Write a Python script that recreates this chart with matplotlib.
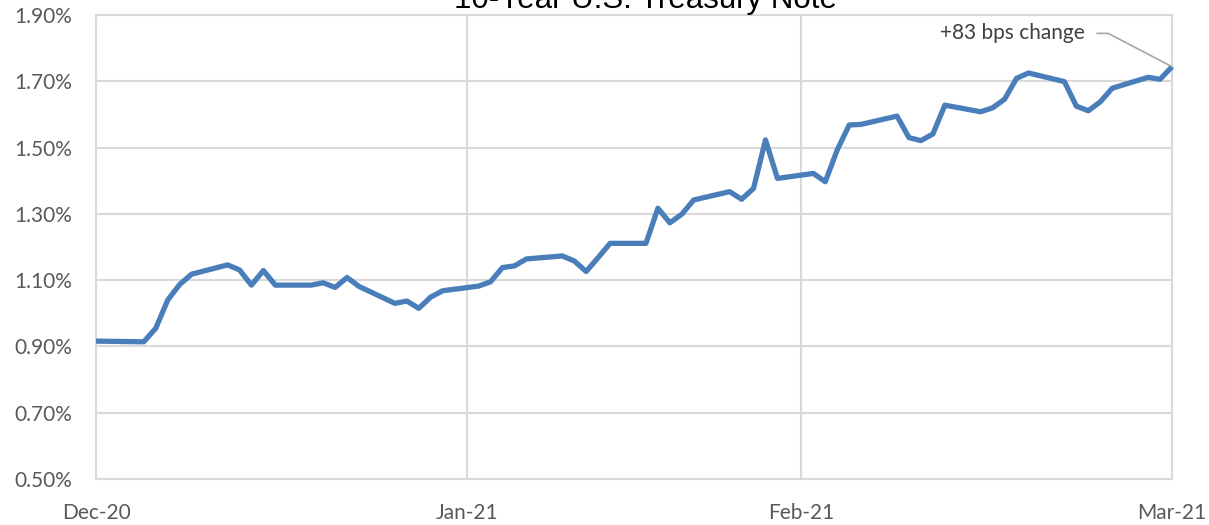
import matplotlib
matplotlib.use("Agg")
import matplotlib.pyplot as plt
import matplotlib.dates as mdates
import matplotlib.ticker as mticker
import numpy as np

# Daily 10-year yield (%), Dec 31 2020 - Mar 31 2021
dates = [
    "2020-12-31", "2021-01-04", "2021-01-05", "2021-01-06", "2021-01-07", "2021-01-08",
    "2021-01-11", "2021-01-12", "2021-01-13", "2021-01-14", "2021-01-15", "2021-01-18",
    "2021-01-19", "2021-01-20", "2021-01-21", "2021-01-22", "2021-01-25", "2021-01-26",
    "2021-01-27", "2021-01-28", "2021-01-29", "2021-02-01", "2021-02-02", "2021-02-03",
    "2021-02-04", "2021-02-05", "2021-02-08", "2021-02-09", "2021-02-10", "2021-02-11",
    "2021-02-12", "2021-02-15", "2021-02-16", "2021-02-17", "2021-02-18", "2021-02-19",
    "2021-02-22", "2021-02-23", "2021-02-24", "2021-02-25", "2021-02-26", "2021-03-01",
    "2021-03-02", "2021-03-03", "2021-03-04", "2021-03-05", "2021-03-08", "2021-03-09",
    "2021-03-10", "2021-03-11", "2021-03-12", "2021-03-15", "2021-03-16", "2021-03-17",
    "2021-03-18", "2021-03-19", "2021-03-22", "2021-03-23", "2021-03-24", "2021-03-25",
    "2021-03-26", "2021-03-29", "2021-03-30", "2021-03-31",
]
yields = [
    0.916, 0.914, 0.955, 1.040, 1.087, 1.118,
    1.146, 1.131, 1.085, 1.129, 1.085, 1.085,
    1.092, 1.078, 1.108, 1.081, 1.030, 1.037,
    1.015, 1.049, 1.068, 1.082, 1.095, 1.138,
    1.143, 1.164, 1.173, 1.158, 1.126, 1.168,
    1.211, 1.211, 1.317, 1.273, 1.299, 1.342,
    1.367, 1.344, 1.377, 1.523, 1.407, 1.422,
    1.397, 1.493, 1.568, 1.570, 1.595, 1.530,
    1.521, 1.541, 1.628, 1.608, 1.620, 1.646,
    1.709, 1.725, 1.699, 1.625, 1.611, 1.638,
    1.679, 1.712, 1.706, 1.744,
]

tick_dates = ["2020-12-31", "2021-01-31", "2021-02-28", "2021-03-31"]
tick_labels = ["Dec-20", "Jan-21", "Feb-21", "Mar-21"]
y_ticks = [0.5, 0.7, 0.9, 1.1, 1.3, 1.5, 1.7, 1.9]

title = "10-Year U.S. Treasury Note"
note = "+83 bps change"

x = np.array(dates, dtype="datetime64[D]")
xt = np.array(tick_dates, dtype="datetime64[D]")

grid_col = "#d9d9d9"
text_col = "#595959"
line_col = "#4a7ebb"

fig = plt.figure(figsize=(12.09, 5.25), dpi=100)
ax = fig.add_axes([96 / 1209, 1 - 479 / 525, (1172 - 96) / 1209, (479 - 15) / 525])

ax.plot(x, yields, color=line_col, linewidth=3.8, solid_joinstyle="round",
        solid_capstyle="butt", zorder=3, clip_on=False)

ax.set_xlim(xt[0], xt[-1])
ax.set_ylim(y_ticks[0], y_ticks[-1])
ax.set_xticks(xt)
ax.set_xticklabels(tick_labels)
ax.set_yticks(y_ticks)
ax.yaxis.set_major_formatter(mticker.FuncFormatter(lambda v, p: f"{v:.2f}%"))

ax.grid(True, color=grid_col, linewidth=1.5)
ax.set_axisbelow(True)
for s in ax.spines.values():
    s.set_color(grid_col)
    s.set_linewidth(1.5)
ax.tick_params(length=0, labelsize=15, labelcolor=text_col)
ax.tick_params(axis="x", pad=17)
ax.tick_params(axis="y", pad=17)
for lab in ax.get_xticklabels() + ax.get_yticklabels():
    lab.set_family("Lato")

# title sits partly above the canvas, as in the original
fig.text(646 / 1209, 1 - 8 / 525, title, ha="center", va="baseline",
         fontsize=22.5, family="Liberation Sans", color="#000000")

ax.annotate(note, xy=(x[-1], yields[-1]), xycoords="data",
            xytext=(-63, 24), textcoords="offset points",
            ha="right", va="center", fontsize=15, family="Lato", color="#404040",
            arrowprops=dict(arrowstyle="-", color="#a6a6a6", linewidth=1.2,
                            relpos=(1, 0.5), shrinkA=7, shrinkB=0,
                            connectionstyle="angle,angleA=0,angleB=-27.6,rad=0"),
            annotation_clip=False)

fig.savefig("out.png", dpi=100)
